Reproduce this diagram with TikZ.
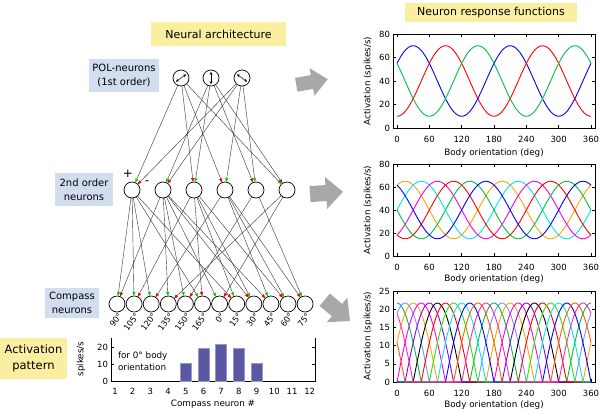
\documentclass[tikz,border=0pt]{standalone}
\usepackage{fontspec}
\setmainfont{DejaVu Sans}
\usetikzlibrary{arrows.meta}
\definecolor{titleyellow}{RGB}{250,238,160}
\definecolor{labelblue}{RGB}{210,222,240}
\definecolor{arrowgray}{RGB}{168,168,168}
\definecolor{barfill}{RGB}{90,88,160}
\definecolor{barline}{RGB}{150,150,210}
\definecolor{excg}{RGB}{0,210,0}
\definecolor{inhr}{RGB}{235,0,0}
\definecolor{pgreen}{RGB}{0,190,70}
\definecolor{porange}{RGB}{255,165,0}
\definecolor{pcyan}{RGB}{0,230,240}
\definecolor{pmagenta}{RGB}{255,0,230}
\definecolor{plblue}{RGB}{110,150,255}
\definecolor{ppurple}{RGB}{140,0,230}
\definecolor{plime}{RGB}{40,230,0}
\definecolor{ppink}{RGB}{255,40,180}
\definecolor{porred}{RGB}{255,90,0}
\begin{document}
\begin{tikzpicture}[x=1pt,y=-1pt,
  every node/.style={inner sep=0pt,outer sep=0pt},
  neuron/.style={circle,draw=black,line width=0.7pt,minimum size=16pt},
  ttl/.style={fill=titleyellow,font=\fontsize{11}{13}\selectfont},
  lbl/.style={fill=labelblue,align=center,font=\fontsize{10}{14}\selectfont},
  tick/.style={font=\fontsize{8.5}{10}\selectfont},
  angl/.style={font=\fontsize{8.2}{9}\selectfont,rotate=54,anchor=east},
  axlabel/.style={font=\fontsize{8.8}{10}\selectfont},
  frame/.style={line width=0.6pt},
  curve/.style={line width=0.9pt},
  conn/.style={draw=black!80,line width=0.4pt},
  excit/.style={conn,-{Triangle[length=4pt,width=3pt,color=excg]}},
  inhib/.style={conn,-{Triangle[length=4pt,width=3pt,color=inhr]}},
  garrow/.style={fill=arrowgray},
  tip2/.style={{Stealth[length=3pt,width=3pt]}-{Stealth[length=3pt,width=3pt]},line width=0.5pt}
]
\useasboundingbox (0,0) rectangle (600,413);
\fill[white] (0,0) rectangle (600,413);

% titles
\node[ttl,minimum width=135pt,minimum height=24pt] (tNA) at (218.5,34) {Neural architecture};
\node[ttl,minimum width=172pt,minimum height=19pt] (tNR) at (491,12) {Neuron response functions};

% side labels
\node[lbl,minimum width=70pt,minimum height=33pt] (lPOL) at (124,75.5) {POL-neurons\\(1st order)};
\node[lbl,minimum width=58pt,minimum height=33pt] (l2nd) at (84,189.5) {2nd order\\neurons};
\node[lbl,minimum width=54pt,minimum height=30pt] (lCmp) at (72,303) {Compass\\neurons};
\node[ttl,align=center,font=\fontsize{11.5}{16}\selectfont,minimum width=67pt,minimum height=41pt] (lAct) at (33.5,358.5) {Activation\\pattern};

% POL neurons
\node[neuron] (p1) at (181,78) {};
\node[neuron] (p2) at (211,78) {};
\node[neuron] (p3) at (242,78) {};
\draw[tip2] ([shift={(144:6.2)}]p1.center) -- ([shift={(-36:6.2)}]p1.center);
\draw[tip2] ([shift={(90:6.2)}]p2.center) -- ([shift={(-90:6.2)}]p2.center);
\draw[tip2] ([shift={(-144:6.2)}]p3.center) -- ([shift={(36:6.2)}]p3.center);

% 2nd order neurons
\foreach \i/\x in {1/132,2/163,3/194,4/225,5/256,6/287}
  \node[neuron] (n\i) at (\x,190) {};
\node[font=\fontsize{12}{12}\selectfont] (plus) at (128,174) {+};
\node[font=\fontsize{12}{12}\selectfont] (minus) at (147,183) {-};

% compass neurons
\foreach \k in {1,...,12}
  \node[neuron] (c\k) at ({117+17.1*(\k-1)},304) {};
\foreach \k/\a in {1/90,2/105,3/120,4/135,5/150,6/165,7/0,8/15,9/30,10/45,11/60,12/75}
  \node[angl] (ca\k) at ({120+17.1*(\k-1)},314) {\a\textdegree};

% POL -> 2nd order
\draw[excit] (p1) -- (n1); \draw[inhib] (p3) -- (n1);
\draw[excit] (p2) -- (n2); \draw[inhib] (p3) -- (n2);
\draw[excit] (p2) -- (n3); \draw[inhib] (p1) -- (n3);
\draw[excit] (p3) -- (n4); \draw[inhib] (p1) -- (n4);
\draw[excit] (p3) -- (n5); \draw[inhib] (p2) -- (n5);
\draw[excit] (p1) -- (n6); \draw[inhib] (p2) -- (n6);

% 2nd order -> compass
\foreach \k/\g/\r in {1/1/2,2/1/3,3/1/4,4/2/6,5/2/5,6/1/3,7/2/6,8/3/1,9/3/2,10/4/2,11/4/3,12/5/4}{
  \draw[excit] (n\g) -- (c\k);
  \draw[inhib] (n\r) -- (c\k);
}

% gray arrows
\fill[garrow,shift={(312,82)},rotate=10] (-16,-7) -- (0,-7) -- (0,-14) -- (16,0) -- (0,14) -- (0,7) -- (-16,7) -- cycle;
\fill[garrow,shift={(326,193)},rotate=4] (-16,-8) -- (0,-8) -- (0,-16) -- (17,0) -- (0,16) -- (0,8) -- (-16,8) -- cycle;
\fill[garrow,shift={(337,310)},rotate=-40] (-16,-8) -- (0,-8) -- (0,-16) -- (17,0) -- (0,16) -- (0,8) -- (-16,8) -- cycle;

% bar chart
\draw[frame] (111,338) -- (111,381) -- (315,381) -- (315,338);
\foreach \v in {0,10,20}{
  \draw[frame] (111,{381-1.7*\v}) -- ++(3,0);
  \draw[frame] (315,{381-1.7*\v}) -- ++(-3,0);
  \node[tick,anchor=east] (by\v) at (108,{381-1.7*\v}) {\v};
}
\foreach \n/\h in {5/10.5,6/19,7/21.5,8/19,9/10.5}
  \filldraw[fill=barfill,draw=barline,line width=0.6pt] ({115+17.7*(\n-1)-5.5},381) rectangle ({115+17.7*(\n-1)+5.5},{381-1.7*\h});
\foreach \n in {1,...,12}
  \node[tick] (bx\n) at ({115+17.7*(\n-1)},391) {\n};
\node[axlabel] (bxl) at (213,404) {Compass neuron \#};
\node[axlabel,rotate=90] (byl) at (81,359) {spikes/s};
\node[tick,align=left,anchor=west,font=\fontsize{8.8}{12}\selectfont] (bnote) at (118,361) {for 0\textdegree{} body\\orientation};

% ---------- plot 1 ----------
\draw[frame] (393,34) rectangle (595,128);
\foreach \t in {0,60,...,360}{
  \draw[frame] ({397+\t*0.53889},128) -- ++(0,-3);
  \draw[frame] ({397+\t*0.53889},34) -- ++(0,3);
  \node[tick] (ax\t) at ({397+\t*0.53889},139) {\t};
}
\foreach \v in {0,20,...,80}{
  \draw[frame] (393,{128-1.175*\v}) -- ++(3,0);
  \draw[frame] (595,{128-1.175*\v}) -- ++(-3,0);
  \node[tick,anchor=east] (ay\v) at (390,{128-1.175*\v}) {\v};
}
\node[axlabel] (axl) at (494,153) {Body orientation (deg)};
\node[axlabel,rotate=90] (ayl) at (368,81) {Activation (spikes/s)};
\foreach \p/\c in {30/blue,90/red,150/pgreen}
  \draw[curve,\c] plot[domain=0:360,samples=121] ({397+\x*0.53889},{128-1.175*(40+30*cos(2*(\x-\p)))});

% ---------- plot 2 ----------
\draw[frame] (393,164) rectangle (595,256);
\foreach \t in {0,60,...,360}{
  \draw[frame] ({397+\t*0.53889},256) -- ++(0,-3);
  \draw[frame] ({397+\t*0.53889},164) -- ++(0,3);
  \node[tick] (bxx\t) at ({397+\t*0.53889},267) {\t};
}
\foreach \v in {0,20,...,80}{
  \draw[frame] (393,{256-1.15*\v}) -- ++(3,0);
  \draw[frame] (595,{256-1.15*\v}) -- ++(-3,0);
  \node[tick,anchor=east] (byy\v) at (390,{256-1.15*\v}) {\v};
}
\node[axlabel] (bxl2) at (494,279) {Body orientation (deg)};
\node[axlabel,rotate=90] (byl2) at (368,210) {Activation (spikes/s)};
\foreach \p/\c in {15/porange,45/pcyan,75/pmagenta,105/red,135/pgreen,165/blue}
  \draw[curve,\c] plot[domain=0:360,samples=121] ({397+\x*0.53889},{256-1.15*(40+25*cos(2*(\x-\p)))});

% ---------- plot 3 ----------
\draw[frame] (393,291) rectangle (595,382);
\foreach \t in {0,60,...,360}{
  \draw[frame] ({397+\t*0.53889},382) -- ++(0,-3);
  \draw[frame] ({397+\t*0.53889},291) -- ++(0,3);
  \node[tick] (cx\t) at ({397+\t*0.53889},393) {\t};
}
\foreach \v in {0,5,...,25}{
  \draw[frame] (393,{382-3.64*\v}) -- ++(3,0);
  \draw[frame] (595,{382-3.64*\v}) -- ++(-3,0);
  \node[tick,anchor=east] (cy\v) at (390,{382-3.64*\v}) {\v};
}
\node[axlabel] (cxl) at (494,405) {Body orientation (deg)};
\node[axlabel,rotate=90] (cyl) at (368,336) {Activation (spikes/s)};
\foreach \p/\c in {0/pgreen,15/plblue,30/porange,45/pmagenta,60/ppurple,75/black,90/red,105/plime,120/pcyan,135/blue,150/porred,165/ppink}
  \draw[curve,\c] plot[domain=0:360,samples=145] ({397+\x*0.53889},{382-3.64*max(0,21.7*cos(2*(\x-\p)))});

\end{tikzpicture}
\end{document}
